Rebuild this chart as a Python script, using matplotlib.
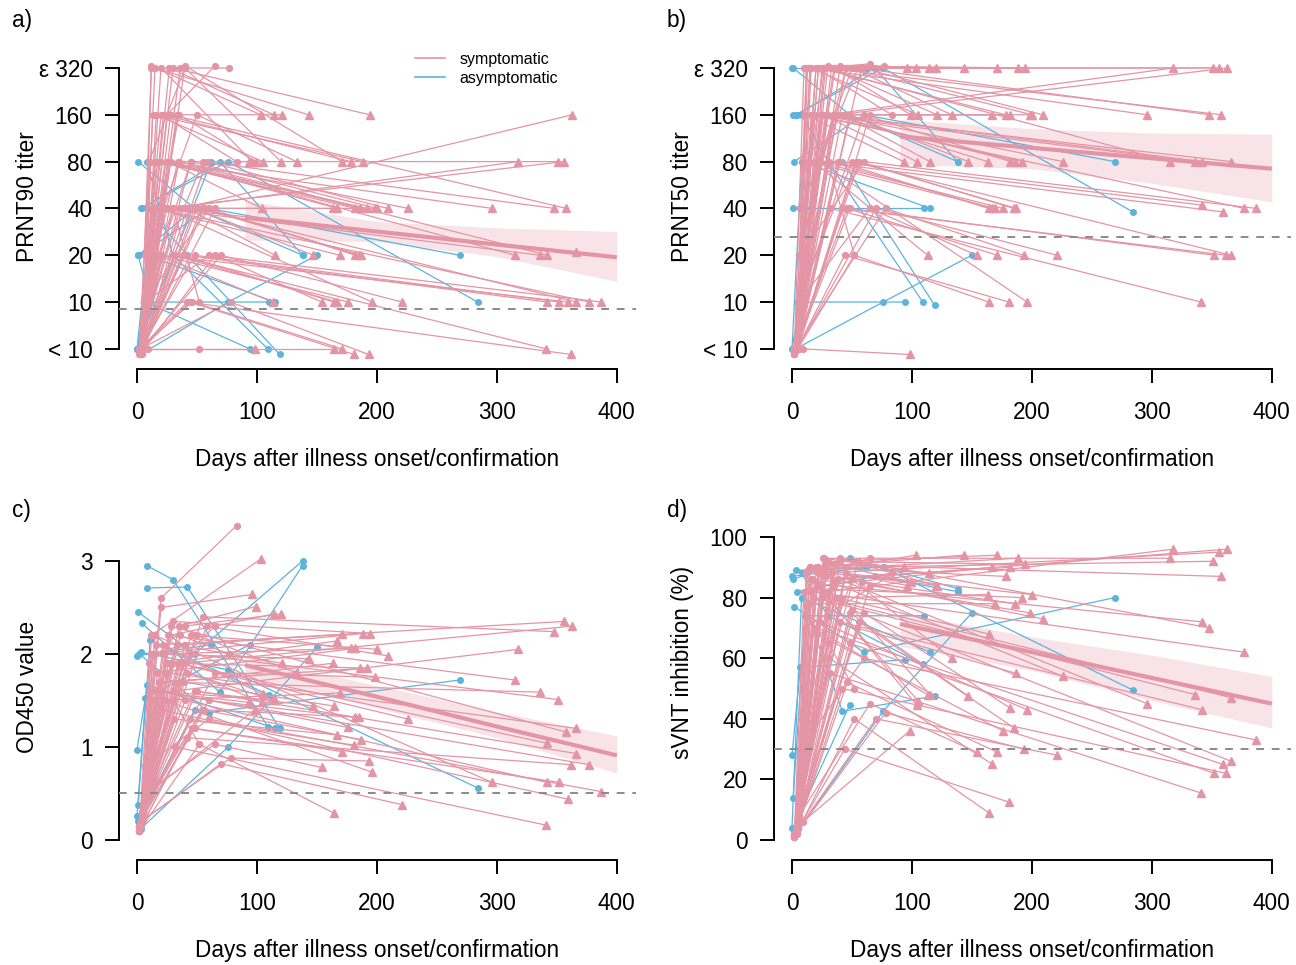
import matplotlib
matplotlib.use("Agg")
import matplotlib.pyplot as plt
import numpy as np

plt.rcParams["font.family"] = ["Liberation Sans", "DejaVu Sans"]

PINK = "#E495A5"
BLUE = "#5AB4DC"
BAND = "#F8E3E8"

# symptomatic subjects: sampling days, then values for each assay (same order)
sym_days = [
    [4, 30, 318], [6, 45, 351], [3, 22, 356], [5, 38, 363], [2, 15, 296],
    [7, 55, 348], [4, 28, 358], [5, 18, 336], [3, 35, 342], [6, 25, 366],
    [2, 40, 342], [4, 20, 359], [5, 50, 366], [3, 16, 377], [7, 60, 387],
    [4, 32, 341], [2, 42, 362], [6, 26, 315], [3, 48, 352],
    [5, 12, 103], [4, 20, 96], [6, 35, 99], [3, 27, 114], [2, 10, 40, 120],
    [5, 40, 171], [7, 13, 188], [3, 30, 194], [4, 22, 178], [6, 17, 182],
    [2, 45, 200], [5, 24, 167], [3, 58, 209], [4, 15, 143], [5, 33, 121],
    [8, 50, 133], [3, 19, 192], [4, 65, 198], [6, 28, 186], [2, 36, 163],
    [5, 16, 105], [3, 42, 115], [7, 11, 93], [4, 26, 104], [5, 48, 147],
    [2, 14, 169], [4, 38, 164], [6, 60, 182], [3, 21, 176], [5, 54, 187],
    [4, 31, 167], [2, 46, 171], [6, 65, 154], [3, 78, 193], [5, 23, 196],
    [4, 70, 221], [2, 52, 164], [6, 34, 226], [3, 9, 98], [4, 44, 181],
    [5, 18, 113], [3, 56, 185],
    [3, 12, 40], [5, 36, 77], [4, 25, 65], [2, 20, 83], [6, 30, 52],
]
sym_prnt90 = [
    [5, 40, 80], [10, 80, 80], [4.6, 40, 80], [5, 40, 160], [5, 80, 40],
    [10, 80, 40], [5, 160, 40], [5, 40, 20], [4.6, 80, 20], [10, 40, 21],
    [5, 20, 10], [5, 20, 10], [5, 40, 10], [4.6, 40, 10], [10, 20, 10],
    [5, 20, 5], [5, 10, 4.6], [10, 80, 20], [5, 20, 10],
    [5, 330, 160], [4.6, 320, 80], [10, 160, 80], [5, 320, 160], [5, 80, 320, 80],
    [5, 330, 80], [10, 160, 80], [5, 320, 160], [5, 160, 80], [10, 80, 40],
    [5, 80, 40], [5, 80, 40], [4.6, 80, 40], [5, 320, 160], [5, 160, 160],
    [20, 160, 80], [5, 80, 40], [5, 40, 40], [10, 80, 40], [5, 40, 40],
    [5, 160, 80], [5, 40, 20], [20, 80, 80], [5, 80, 40], [5, 40, 20],
    [4.6, 40, 20], [5, 20, 10], [10, 40, 20], [5, 20, 10], [5, 40, 20],
    [5, 20, 10], [5, 10, 5], [5, 20, 10], [5, 10, 4.6], [5, 40, 10],
    [5, 20, 10], [5, 5, 5], [10, 80, 40], [5, 5, 5], [5, 10, 4.6],
    [5, 20, 10], [4.6, 40, 20],
    [5, 320, 320], [5, 320, 320], [5, 160, 330], [5, 160, 80], [10, 40, 10],
]
sym_prnt50 = [
    [5, 160, 320], [20, 320, 320], [5, 320, 320], [10, 160, 320], [5, 320, 160],
    [40, 320, 160], [5, 320, 160], [10, 160, 80], [5, 160, 80], [10, 160, 80],
    [5, 80, 42], [5, 80, 38], [10, 80, 20], [5, 160, 40], [20, 80, 40],
    [5, 40, 10], [4.6, 40, 20], [20, 320, 80], [5, 40, 20],
    [5, 320, 320], [5, 320, 320], [10, 320, 160], [5, 320, 320], [5, 320, 330, 320],
    [5, 320, 320], [20, 320, 320], [5, 330, 320], [5, 320, 160], [10, 160, 160],
    [5, 320, 160], [5, 160, 160], [5, 320, 160], [5, 320, 320], [5, 320, 160],
    [40, 320, 160], [5, 160, 80], [5, 160, 160], [10, 160, 80], [5, 160, 80],
    [5, 320, 160], [5, 160, 80], [40, 160, 80], [5, 160, 80], [5, 160, 80],
    [4.6, 80, 40], [5, 80, 40], [10, 160, 80], [5, 80, 40], [5, 80, 40],
    [5, 80, 40], [5, 40, 20], [10, 40, 20], [5, 40, 20], [5, 80, 10],
    [5, 40, 20], [4.6, 20, 10], [20, 160, 80], [5, 5, 4.6], [5, 20, 10],
    [5, 80, 20], [5, 80, 40],
    [5, 320, 320], [10, 320, 330], [5, 320, 340], [5, 320, 160], [10, 80, 20],
]
sym_od450 = [
    [0.30, 1.60, 2.05], [0.50, 2.00, 1.51], [0.20, 2.10, 2.35], [0.25, 1.90, 2.30], [0.15, 2.20, 0.62],
    [0.60, 2.40, 2.24], [0.20, 2.30, 1.16], [0.30, 1.70, 1.59], [0.20, 1.90, 1.04], [0.40, 1.80, 1.20],
    [0.15, 1.50, 0.62], [0.20, 1.40, 0.44], [0.30, 1.60, 0.93], [0.20, 1.60, 0.81], [0.80, 1.30, 0.52],
    [0.20, 1.00, 0.16], [0.10, 1.10, 0.81], [0.50, 2.20, 1.72], [0.20, 1.20, 0.62],
    [0.30, 2.20, 3.02], [0.20, 2.50, 2.64], [0.50, 2.30, 2.51], [0.15, 2.20, 2.43], [0.10, 1.90, 2.30, 2.43],
    [0.30, 2.10, 2.21], [0.60, 2.00, 2.22], [0.20, 2.35, 2.22], [0.25, 2.00, 2.06], [0.40, 1.80, 2.06],
    [0.15, 2.20, 2.05], [0.30, 1.90, 2.14], [0.20, 2.30, 1.98], [0.30, 2.00, 1.95], [0.30, 2.10, 1.90],
    [0.90, 2.20, 1.80], [0.20, 1.70, 1.85], [0.25, 1.80, 1.75], [0.50, 1.90, 1.85], [0.10, 1.70, 1.90],
    [0.30, 2.10, 1.57], [0.20, 1.80, 1.50], [0.80, 1.60, 1.48], [0.25, 1.90, 1.48], [0.35, 1.60, 1.44],
    [0.15, 1.50, 1.58], [0.20, 1.70, 1.44], [0.40, 1.50, 1.32], [0.20, 1.60, 1.21], [0.30, 1.40, 1.08],
    [0.25, 1.30, 1.13], [0.10, 1.20, 0.95], [0.50, 1.03, 0.78], [0.20, 0.88, 0.85], [0.30, 1.50, 0.73],
    [0.20, 0.82, 0.38], [0.10, 1.03, 0.29], [0.50, 1.90, 1.30], [0.20, 0.50, 1.40], [0.20, 1.30, 1.02],
    [0.30, 1.60, 1.50], [0.20, 1.40, 1.32],
    [0.20, 2.00, 2.10], [0.30, 2.20, 2.00], [0.25, 1.80, 2.30], [0.15, 2.60, 3.38], [0.50, 1.50, 1.03],
]
sym_svnt = [
    [5, 82, 96], [10, 90, 92], [3, 88, 95], [4, 86, 96], [2, 90, 45],
    [20, 92, 70], [4, 91, 87], [6, 80, 48], [3, 84, 72], [8, 80, 47],
    [2, 72, 43], [3, 70, 25], [5, 76, 26], [4, 82, 62], [30, 60, 33],
    [2, 55, 15.5], [1, 50, 22], [10, 93, 93], [2, 65, 22],
    [4, 88, 94], [3, 90, 84], [8, 91, 85], [2, 93, 88], [2, 82, 93, 84],
    [6, 92, 94], [12, 89, 93], [3, 92, 91], [4, 90, 87], [7, 86, 90],
    [1, 88, 81], [5, 84, 90], [3, 85, 73], [4, 90, 94], [6, 88, 84],
    [40, 86, 60], [2, 83, 80], [4, 84, 75], [9, 87, 78], [1, 80, 81],
    [5, 86, 46], [3, 80, 48], [25, 70, 90], [4, 82, 44.5], [6, 75, 47.5],
    [2, 78, 78], [4, 80, 68], [10, 75, 43.5], [3, 68, 36], [5, 70, 55],
    [4, 60, 25], [1, 52, 29], [8, 45, 29], [2, 42, 30], [5, 72, 43],
    [3, 40, 28], [1, 40, 9], [9, 85, 54], [2, 6, 36], [3, 30, 12.5],
    [5, 70, 48], [3, 72, 37],
    [3, 88, 92], [4, 91, 90], [5, 88, 93], [2, 85, 88], [7, 65, 50],
]

# asymptomatic subjects
asym_days = [
    [1, 48, 138], [4, 69, 138], [8, 30, 109], [8, 42, 119], [2, 60, 269],
    [3, 76, 284], [0, 7, 94], [1, 11, 110], [0, 8, 115], [3, 76, 150],
    [1, 48], [0, 62],
]
asym_prnt90 = [
    [80, 40, 20], [40, 80, 20], [80, 20, 5], [40, 20, 4.6], [20, 40, 20],
    [40, 80, 10], [5, 10, 5], [20, 10, 10], [5, 20, 10], [4.6, 10, 20],
    [20, 40], [5, 80],
]
asym_prnt50 = [
    [320, 160, 80], [160, 320, 80], [160, 80, 10], [80, 80, 9.5], [80, 160, 80],
    [160, 320, 38], [5, 10, 10], [40, 40, 40], [5, 80, 40], [5, 10, 20],
    [160, 160], [320, 320],
]
asym_od450 = [
    [2.45, 2.00, 3.00], [2.33, 1.59, 2.95], [2.95, 2.80, 1.22], [2.71, 2.72, 1.20], [2.00, 1.37, 1.72],
    [2.02, 1.83, 0.56], [0.97, 1.53, 2.10], [0.38, 2.15, 1.56], [0.26, 1.67, 1.20], [0.12, 1.00, 2.07],
    [0.20, 1.40], [1.98, 2.10],
]
asym_svnt = [
    [86, 93, 83], [82, 87, 82], [88, 74, 58], [80, 42.5, 47.5], [77, 62, 80],
    [89, 90, 49.5], [28, 57, 59.5], [14, 74, 74], [4, 80, 62], [2, 42.5, 75],
    [4, 44.5], [87, 90],
]

# fitted decline (day >= 90) with confidence band
trend_days = [90, 200, 300, 400]
prnt90_fit = [35.0, 28.4, 23.4, 19.4]
prnt90_lo = [25.0, 24.5, 19.6, 13.6]
prnt90_hi = [45.0, 33.0, 30.0, 28.4]
prnt50_fit = [116, 98, 84, 72]
prnt50_lo = [77, 72, 58, 44]
prnt50_hi = [149, 130, 122, 120]
od450_fit = [1.88, 1.54, 1.22, 0.91]
od450_lo = [1.76, 1.42, 1.10, 0.72]
od450_hi = [1.98, 1.66, 1.38, 1.12]
svnt_fit = [71.3, 62.0, 53.5, 45.0]
svnt_lo = [64, 56, 46, 37]
svnt_hi = [75, 67, 61, 54]

titer_ticks = [5, 10, 20, 40, 80, 160, 320]
titer_labels = ["< 10", "10", "20", "40", "80", "160", "ε 320"]
x_ticks = [0, 100, 200, 300, 400]

FS = 16.3
W, H = 1296, 965


def px_axes(fig, left, top, right, bottom):
    return fig.add_axes([left / W, 1 - bottom / H, (right - left) / W, (bottom - top) / H])


def draw_subjects(ax, s_days, s_vals, a_days, a_vals):
    for d, v in zip(a_days, a_vals):
        ax.plot(d, v, color=BLUE, lw=0.9, marker="o", ms=4, mec=BLUE, mfc=BLUE, zorder=2)
    for d, v in zip(s_days, s_vals):
        ax.plot(d, v, color=PINK, lw=0.9, zorder=3)
        d = np.array(d)
        v = np.array(v, dtype=float)
        early = d < 85
        ax.plot(d[early], v[early], ls="none", marker="o", ms=4.2, color=PINK, zorder=3)
        ax.plot(d[~early], v[~early], ls="none", marker="^", ms=5.5, color=PINK, zorder=3)


def draw_trend(ax, fit, lo, hi):
    ax.fill_between(trend_days, lo, hi, color=BAND, lw=0, zorder=1)
    ax.plot(trend_days, fit, color=PINK, lw=3, solid_capstyle="butt", zorder=4)


def style(ax, ybounds, yticks, ylabels, ylabel, label_y):
    for s in ["top", "right"]:
        ax.spines[s].set_visible(False)
    ax.spines["left"].set_bounds(*ybounds)
    ax.spines["bottom"].set_bounds(0, 400)
    for s in ["left", "bottom"]:
        ax.spines[s].set_linewidth(1.4)
    ax.set_xticks(x_ticks)
    ax.set_yticks(yticks)
    ax.set_yticklabels(ylabels)
    ax.minorticks_off()
    ax.tick_params(axis="both", length=10, width=1.4, labelsize=FS)
    ax.tick_params(axis="y", pad=9)
    ax.tick_params(axis="x", pad=13)
    ax.set_xlabel("Days after illness onset/confirmation", fontsize=FS)
    ax.set_ylabel(ylabel, fontsize=FS)
    h = ax.get_position().height * H
    ax.xaxis.set_label_coords(0.5, -79 / h)
    ax.yaxis.set_label_coords(-0.154, label_y)


fig = plt.figure(figsize=(W / 100, H / 100), dpi=100)

# a) PRNT90
ax = px_axes(fig, 119, 43, 636, 369)
ax.set_yscale("log", base=2)
draw_trend(ax, prnt90_fit, prnt90_lo, prnt90_hi)
draw_subjects(ax, sym_days, sym_prnt90, asym_days, asym_prnt90)
ax.axhline(9, color="#8A8A8A", lw=1.4, ls=(0, (4, 4)), zorder=5)
ax.set_xlim(-15, 416)
ax.set_ylim(3.71, 463)
style(ax, (5, 320), titer_ticks, titer_labels, "PRNT90 titer", 0.529)
ax.legend(
    [plt.Line2D([], [], color=PINK, lw=1.2), plt.Line2D([], [], color=BLUE, lw=1.2)],
    ["symptomatic", "asymptomatic"],
    loc="upper left", bbox_to_anchor=(0.5725, 0.973), frameon=False, fontsize=11.5,
    handlelength=1.9, handletextpad=0.9, labelspacing=0.25, borderpad=0, borderaxespad=0,
)

# b) PRNT50
ax = px_axes(fig, 774, 43, 1291, 369)
ax.set_yscale("log", base=2)
draw_trend(ax, prnt50_fit, prnt50_lo, prnt50_hi)
draw_subjects(ax, sym_days, sym_prnt50, asym_days, asym_prnt50)
ax.axhline(26, color="#8A8A8A", lw=1.4, ls=(0, (4, 4)), zorder=5)
ax.set_xlim(-15, 416)
ax.set_ylim(3.71, 463)
style(ax, (5, 320), titer_ticks, titer_labels, "PRNT50 titer", 0.529)

# c) OD450
ax = px_axes(fig, 119, 514, 636, 860)
draw_trend(ax, od450_fit, od450_lo, od450_hi)
draw_subjects(ax, sym_days, sym_od450, asym_days, asym_od450)
ax.axhline(0.5, color="#8A8A8A", lw=1.4, ls=(0, (4, 4)), zorder=5)
ax.set_xlim(-15, 416)
ax.set_ylim(-0.215, 3.505)
style(ax, (0, 3), [0, 1, 2, 3], ["0", "1", "2", "3"], "OD450 value", 0.5)

# d) sVNT
ax = px_axes(fig, 774, 514, 1291, 860)
draw_trend(ax, svnt_fit, svnt_lo, svnt_hi)
draw_subjects(ax, sym_days, sym_svnt, asym_days, asym_svnt)
ax.axhline(30, color="#8A8A8A", lw=1.4, ls=(0, (4, 4)), zorder=5)
ax.set_xlim(-15, 416)
ax.set_ylim(-6.6, 107.6)
style(ax, (0, 100), [0, 20, 40, 60, 80, 100], ["0", "20", "40", "60", "80", "100"],
      "sVNT inhibition (%)", 0.572)

for lab, x, y in [("a)", 12, 20), ("b)", 667, 20), ("c)", 12, 511), ("d)", 667, 511)]:
    fig.text(x / W, 1 - y / H, lab, fontsize=FS, va="center", ha="left")

fig.savefig("out.png", dpi=100)
